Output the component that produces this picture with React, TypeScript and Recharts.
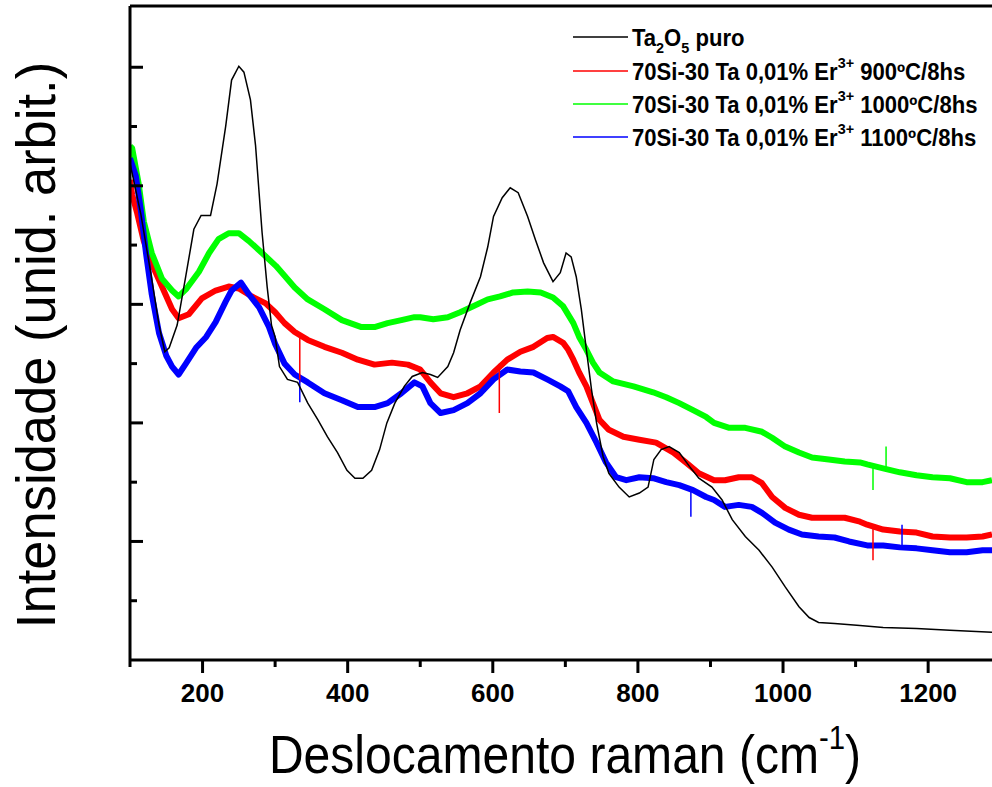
import { LineChart, Line, XAxis, YAxis, ReferenceLine, Customized } from "recharts"

// Raman spectra of pure Ta2O5 and of 70Si-30Ta glass-ceramics doped with 0.01% Er3+
// annealed at three temperatures. Intensity is in arbitrary units.

const FONT = "'Liberation Sans', Arial, Helvetica, sans-serif"

const X_TICKS = [100, 200, 300, 400, 500, 600, 700, 800, 900, 1000, 1100, 1200]
const Y_TICKS = [60, 120, 180, 240, 300, 360, 420, 480, 540, 600]

// Ta2O5 puro
const PURE_SHIFT = [
  100, 115, 129, 140, 148, 154, 165, 177, 188, 198, 211, 220, 232, 240, 250, 257, 266, 273, 282, 289,
  295, 300, 306, 317, 331, 345, 359, 372, 386, 399, 410, 421, 433, 444, 454, 465, 478, 489, 503, 514,
  524, 538, 546, 555, 569, 583, 593, 601, 613, 624, 635, 648, 659, 670, 683, 693, 701, 708, 715, 722,
  729, 736, 743, 752, 760, 774, 788, 802, 814, 822, 832, 843, 857, 871, 884, 902, 916, 930, 948, 967,
  985, 1003, 1022, 1036, 1049, 1071, 1106, 1138, 1184, 1230, 1288,
]
const PURE_INT = [
  503, 451, 390, 339, 312, 316, 339, 389, 436, 450, 450, 482, 541, 587, 601, 595, 567, 521, 433, 378,
  339, 327, 297, 284, 281, 260, 243, 226, 210, 192, 184, 184, 192, 213, 240, 260, 277, 287, 291, 289,
  286, 297, 311, 334, 362, 388, 418, 449, 468, 478, 473, 449, 425, 402, 383, 392, 412, 408, 388, 355,
  314, 274, 240, 206, 189, 175, 165, 169, 175, 203, 213, 216, 210, 196, 184, 175, 162, 142, 125, 111,
  94, 74, 54, 43, 38, 37, 35, 33, 32, 30, 28,
]

// 900 ºC / 8 h
const S900_SHIFT = [
  100, 103, 110, 119, 130, 144, 158, 167, 181, 199, 218, 236, 250, 268, 287, 300, 313, 327, 345, 368,
  392, 414, 437, 461, 483, 500, 514, 528, 546, 565, 583, 601, 620, 638, 656, 675, 683, 697, 704, 711,
  719, 729, 738, 747, 760, 780, 802, 825, 849, 866, 884, 905, 920, 939, 957, 971, 985, 1003, 1022, 1040,
  1063, 1085, 1106, 1116, 1138, 1161, 1184, 1206, 1230, 1253, 1275, 1288,
]
const S900_INT = [
  486, 471, 452, 424, 401, 378, 355, 346, 350, 366, 374, 378, 376, 368, 361, 352, 341, 332, 324, 317,
  311, 304, 299, 301, 299, 294, 281, 270, 266, 270, 277, 291, 304, 312, 317, 326, 327, 321, 314, 304,
  291, 277, 260, 243, 233, 226, 223, 220, 210, 200, 189, 182, 182, 185, 185, 179, 165, 154, 147, 144,
  144, 144, 140, 137, 132, 130, 129, 125, 124, 124, 125, 127,
]

// 1000 ºC / 8 h
const S1000_SHIFT = [
  100, 103, 112, 119, 130, 144, 158, 167, 178, 195, 209, 222, 236, 250, 264, 282, 301, 313, 327, 345,
  368, 392, 419, 437, 455, 474, 492, 500, 518, 538, 555, 573, 593, 610, 628, 648, 666, 683, 697, 711,
  719, 729, 738, 747, 766, 794, 821, 839, 857, 876, 894, 905, 926, 948, 971, 985, 1003, 1022, 1040, 1063,
  1085, 1106, 1116, 1138, 1161, 1184, 1206, 1230, 1253, 1275, 1288,
]
const S1000_INT = [
  520, 518, 482, 444, 412, 386, 374, 368, 376, 393, 412, 426, 432, 432, 424, 412, 399, 389, 377, 365,
  355, 344, 337, 337, 341, 344, 347, 347, 345, 347, 352, 358, 365, 368, 372, 373, 372, 367, 358, 341,
  327, 314, 301, 291, 282, 277, 271, 266, 260, 253, 246, 240, 235, 235, 231, 225, 216, 210, 205, 203,
  201, 200, 198, 194, 190, 187, 185, 184, 180, 180, 182,
]

// 1100 ºC / 8 h
const S1100_SHIFT = [
  100, 108, 115, 122, 130, 140, 150, 158, 167, 177, 191, 205, 218, 232, 240, 253, 264, 278, 291, 300,
  313, 327, 345, 368, 392, 414, 437, 455, 474, 492, 503, 514, 528, 546, 565, 583, 601, 620, 638, 656,
  675, 693, 704, 715, 729, 743, 756, 770, 784, 802, 821, 839, 857, 876, 894, 905, 920, 939, 957, 971,
  989, 1008, 1026, 1049, 1071, 1091, 1116, 1138, 1161, 1184, 1206, 1230, 1253, 1275, 1288,
]
const S1100_INT = [
  508, 490, 455, 412, 370, 331, 308, 297, 289, 300, 316, 327, 342, 363, 374, 382, 370, 357, 338, 320,
  300, 289, 281, 270, 263, 256, 256, 260, 270, 281, 277, 260, 250, 253, 260, 270, 284, 294, 292, 291,
  284, 277, 272, 256, 240, 220, 200, 185, 182, 185, 184, 180, 177, 172, 165, 162, 155, 157, 155, 149,
  139, 132, 127, 125, 124, 120, 116, 116, 114, 113, 111, 109, 109, 111, 111,
]

// isolated cosmic-ray spikes: position, level of the trace, tip of the spike
const S900_SPIKE_SHIFT = [334, 609, 1124]
const S900_SPIKE_BASE = [329, 300, 136]
const S900_SPIKE_TIP = [281, 250, 101]
const S1000_SPIKE_SHIFT = [1124, 1142]
const S1000_SPIKE_BASE = [196, 194]
const S1000_SPIKE_TIP = [172, 216]
const S1100_SPIKE_SHIFT = [334, 873, 1164]
const S1100_SPIKE_BASE = [284, 172, 114]
const S1100_SPIKE_TIP = [261, 145, 137]

const BLACK = "#000000"
const RED = "#ff0000"
const GREEN = "#00ff00"
const BLUE = "#0000ff"

const LEGEND = [
  { name: "Ta_{2}O_{5} puro", color: BLACK },
  { name: "70Si-30 Ta 0,01% Er^{3+} 900ºC/8hs", color: RED },
  { name: "70Si-30 Ta 0,01% Er^{3+} 1000ºC/8hs", color: GREEN },
  { name: "70Si-30 Ta 0,01% Er^{3+} 1100ºC/8hs", color: BLUE },
]

const toPoints = (shift: number[], int: number[]) => shift.map((x, i) => ({ x, y: int[i] }))

const toSpikes = (shift: number[], base: number[], tip: number[]) =>
  shift.flatMap((x, i) => [
    { x, y: base[i] },
    { x, y: tip[i] },
    { x, y: null },
  ])

const pure = toPoints(PURE_SHIFT, PURE_INT)
const s900 = toPoints(S900_SHIFT, S900_INT)
const s1000 = toPoints(S1000_SHIFT, S1000_INT)
const s1100 = toPoints(S1100_SHIFT, S1100_INT)

const PLOT_LEFT = 130
const PLOT_BOTTOM = 660

function XTick(props: any) {
  const { x, payload } = props
  const major = payload.value % 200 === 0
  return (
    <g>
      <line x1={x} x2={x} y1={PLOT_BOTTOM} y2={PLOT_BOTTOM + (major ? 13 : 7)} stroke="#000" strokeWidth={3} />
      {major && (
        <text x={x} y={702} textAnchor="middle" fontFamily={FONT} fontWeight="bold" fontSize={26} fill="#000">
          {payload.value}
        </text>
      )}
    </g>
  )
}

function YTick(props: any) {
  const { y, payload } = props
  const major = payload.value % 120 === 0
  return <line x1={PLOT_LEFT} x2={PLOT_LEFT + (major ? 13 : 7)} y1={y} y2={y} stroke="#000" strokeWidth={3} />
}

// "_{..}" -> subscript, "^{..}" -> superscript
function rich(text: string, size: number) {
  const pieces = text.split(/(_\{[^}]*\}|\^\{[^}]*\})/).filter(Boolean)
  let shift = 0
  return pieces.map((p, i) => {
    let target = 0
    let content = p
    let fs = size
    if (p.startsWith("_{")) {
      target = 7
      content = p.slice(2, -1)
      fs = Math.round(size * 0.65)
    } else if (p.startsWith("^{")) {
      target = -12
      content = p.slice(2, -1)
      fs = Math.round(size * 0.65)
    }
    const dy = target - shift
    shift = target
    return (
      <tspan key={i} dy={dy} fontSize={fs}>
        {content}
      </tspan>
    )
  })
}

function Decorations() {
  const rowY = [37, 71, 104, 137]
  return (
    <g>
      {/* axis titles */}
      <g transform="translate(565,773) scale(0.89,1)">
        <text textAnchor="middle" fontFamily={FONT} fontSize={54} fill="#000">
          Deslocamento raman (cm
          <tspan dy={-24} fontSize={33}>
            -1
          </tspan>
          <tspan dy={24} fontSize={54}>
            )
          </tspan>
        </text>
      </g>
      <g transform="translate(55,345) rotate(-90) scale(0.955,1)">
        <text textAnchor="middle" fontFamily={FONT} fontSize={55} fill="#000">
          Intensidade (unid. arbit.)
        </text>
      </g>

      {/* legend */}
      {LEGEND.map((item, i) => (
        <g key={item.name}>
          <line x1={573} x2={628} y1={rowY[i]} y2={rowY[i]} stroke={item.color} strokeWidth={1.5} />
          <g transform={`translate(632,${rowY[i] + 9}) scale(0.96,1)`}>
            <text x={0} y={0} fontFamily={FONT} fontWeight="bold" fontSize={23} fill="#000">
              {rich(item.name, 23)}
            </text>
          </g>
        </g>
      ))}
    </g>
  )
}

export default function App() {
  return (
    <div style={{ position: "absolute", left: 0, top: 0, background: "#fff" }}>
      <LineChart width={992} height={787} margin={{ top: 6, right: 0, bottom: 0, left: 0 }}>
        <XAxis
          type="number"
          dataKey="x"
          domain={[100, 1288]}
          ticks={X_TICKS}
          interval={0}
          allowDataOverflow
          tick={<XTick />}
          tickLine={false}
          axisLine={{ stroke: "#000", strokeWidth: 3 }}
          height={127}
        />
        <YAxis
          type="number"
          domain={[0, 662]}
          ticks={Y_TICKS}
          interval={0}
          allowDataOverflow
          tick={<YTick />}
          tickLine={false}
          axisLine={{ stroke: "#000", strokeWidth: 3 }}
          width={130}
        />
        <ReferenceLine y={662} stroke="#000" strokeWidth={3} />

        <Line data={s900} dataKey="y" stroke={RED} strokeWidth={6} dot={false} isAnimationActive={false} strokeLinejoin="round" />
        <Line data={s1000} dataKey="y" stroke={GREEN} strokeWidth={6} dot={false} isAnimationActive={false} strokeLinejoin="round" />
        <Line data={s1100} dataKey="y" stroke={BLUE} strokeWidth={6} dot={false} isAnimationActive={false} strokeLinejoin="round" />
        <Line data={toSpikes(S900_SPIKE_SHIFT, S900_SPIKE_BASE, S900_SPIKE_TIP)} dataKey="y" stroke={RED} strokeWidth={1.5} dot={false} isAnimationActive={false} />
        <Line data={toSpikes(S1000_SPIKE_SHIFT, S1000_SPIKE_BASE, S1000_SPIKE_TIP)} dataKey="y" stroke={GREEN} strokeWidth={1.5} dot={false} isAnimationActive={false} />
        <Line data={toSpikes(S1100_SPIKE_SHIFT, S1100_SPIKE_BASE, S1100_SPIKE_TIP)} dataKey="y" stroke={BLUE} strokeWidth={1.5} dot={false} isAnimationActive={false} />
        <Line data={pure} dataKey="y" stroke={BLACK} strokeWidth={1.5} dot={false} isAnimationActive={false} />

        <Customized component={Decorations} />
      </LineChart>
    </div>
  )
}
